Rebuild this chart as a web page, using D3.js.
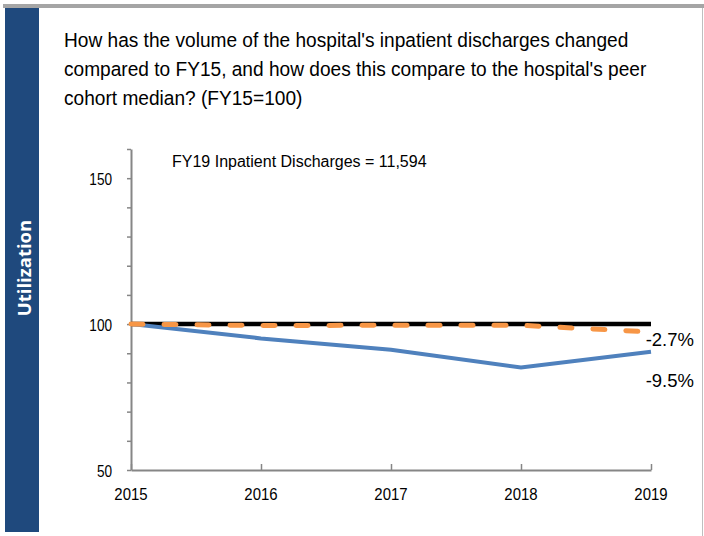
<!DOCTYPE html>
<html lang="en">
<head>
<meta charset="utf-8">
<title>Inpatient Discharges</title>
<style>
    body { margin: 0; background: #ffffff; }
    text { font-family: "Liberation Sans", Arial, sans-serif; fill: #000; }
</style>
</head>
<body>
<div id="chart"></div>
<script src="https://d3js.org/d3.v7.min.js"></script>
<script>
// data
var years = [2015, 2016, 2017, 2018, 2019];
var baseline = [100, 100, 100, 100, 100];
var peerMedian = [100, 99.5, 99.6, 99.6, 97.3];
var hospital = [100, 95.1, 91.2, 85.1, 90.5];
var yTicks = [50, 100, 150];
var endLabels = ["-2.7%", "-9.5%"];
var titleLines = [
    "How has the volume of the hospital's inpatient discharges changed",
    "compared to FY15, and how does this compare to the hospital's peer",
    "cohort median? (FY15=100)"
];
var note = "FY19 Inpatient Discharges = 11,594";

var width = 704, height = 536;

var svg = d3.select("#chart").append("svg")
    .attr("width", width)
    .attr("height", height);

// narrow text: place at (x,y) and squeeze horizontally
function narrow(sel, x, y, k) {
    sel.attr("transform", "translate(" + x + "," + y + ") scale(" + k + ",1)");
}

// frame: grey top strip, blue side bar, thin right border
svg.append("rect").attr("x", 3).attr("y", 4).attr("width", width - 3).attr("height", 4).attr("fill", "#a5a5a5");
svg.append("rect").attr("x", 5).attr("y", 8).attr("width", 34).attr("height", 524).attr("fill", "#1f497d");
svg.append("line").attr("x1", 702.5).attr("x2", 702.5).attr("y1", 8).attr("y2", 536)
    .attr("stroke", "#bfbfbf").attr("stroke-width", 1);

svg.append("text")
    .attr("transform", "translate(31,268) rotate(-90)")
    .attr("text-anchor", "middle")
    .style("font-family", "'Open Sans', 'Noto Sans', sans-serif")
    .style("font-weight", "bold")
    .style("font-size", "18.5px")
    .style("fill", "#fff")
    .text("Utilization");

// title
svg.append("g").selectAll("text")
    .data(titleLines)
    .enter()
    .append("text")
    .each(function(d, i) { narrow(d3.select(this), 64, 47 + i * 29, 0.98); })
    .style("font-size", "19.5px")
    .text(function(d) { return d; });

// scales
var x = d3.scalePoint().domain(years).range([131, 651]);
var y = d3.scaleLinear().domain([50, 160]).range([470, 149]);

var axisColor = "#868686";

// y axis
var yAxis = svg.append("g")
    .attr("transform", "translate(131,0)")
    .call(d3.axisLeft(y).tickValues(d3.range(50, 161, 10)).tickSize(4).tickSizeOuter(0).tickFormat(""));
yAxis.select(".domain").attr("stroke", axisColor).attr("stroke-width", 2);
yAxis.selectAll(".tick line").attr("stroke", axisColor).attr("stroke-width", 1.5);

svg.append("g").selectAll("text")
    .data(yTicks)
    .enter()
    .append("text")
    .each(function(d) { narrow(d3.select(this), 112, y(d) + 6.5, 0.85); })
    .attr("text-anchor", "end")
    .style("font-size", "16px")
    .text(function(d) { return d; });

// x axis
var xAxis = svg.append("g")
    .attr("transform", "translate(0," + y(50) + ")")
    .call(d3.axisBottom(x).tickSize(-6).tickSizeOuter(0).tickFormat(""));
xAxis.select(".domain").attr("stroke", axisColor).attr("stroke-width", 2);
xAxis.selectAll(".tick line").attr("stroke", axisColor).attr("stroke-width", 1.5);

svg.append("g").selectAll("text")
    .data(years)
    .enter()
    .append("text")
    .each(function(d) { narrow(d3.select(this), x(d), 500, 0.88); })
    .attr("text-anchor", "middle")
    .style("font-size", "17px")
    .text(function(d) { return d; });

// lines
var line = d3.line()
    .x(function(d, i) { return x(years[i]); })
    .y(function(d) { return y(d); });

svg.append("path")
    .datum(baseline)
    .attr("d", line)
    .attr("fill", "none")
    .attr("stroke", "#000")
    .attr("stroke-width", 4.5);

svg.append("path")
    .datum(hospital)
    .attr("d", line)
    .attr("fill", "none")
    .attr("stroke", "#4f81bd")
    .attr("stroke-width", 4);

svg.append("path")
    .datum(peerMedian)
    .attr("d", line)
    .attr("fill", "none")
    .attr("stroke", "#f79646")
    .attr("stroke-width", 5)
    .attr("stroke-linecap", "round")
    .attr("stroke-dasharray", "12,21");

// end labels
var endValues = [peerMedian[4], hospital[4]];
svg.append("g").selectAll("text")
    .data(endLabels)
    .enter()
    .append("text")
    .attr("x", 694)
    .attr("y", function(d, i) { return i == 0 ? y(endValues[i]) + 14.5 : y(endValues[i]) + 35; })
    .attr("text-anchor", "end")
    .style("font-size", "18.5px")
    .text(function(d) { return d; });

// note
svg.append("text")
    .attr("x", 172)
    .attr("y", 167)
    .style("font-size", "16px")
    .text(note);
</script>
</body>
</html>
